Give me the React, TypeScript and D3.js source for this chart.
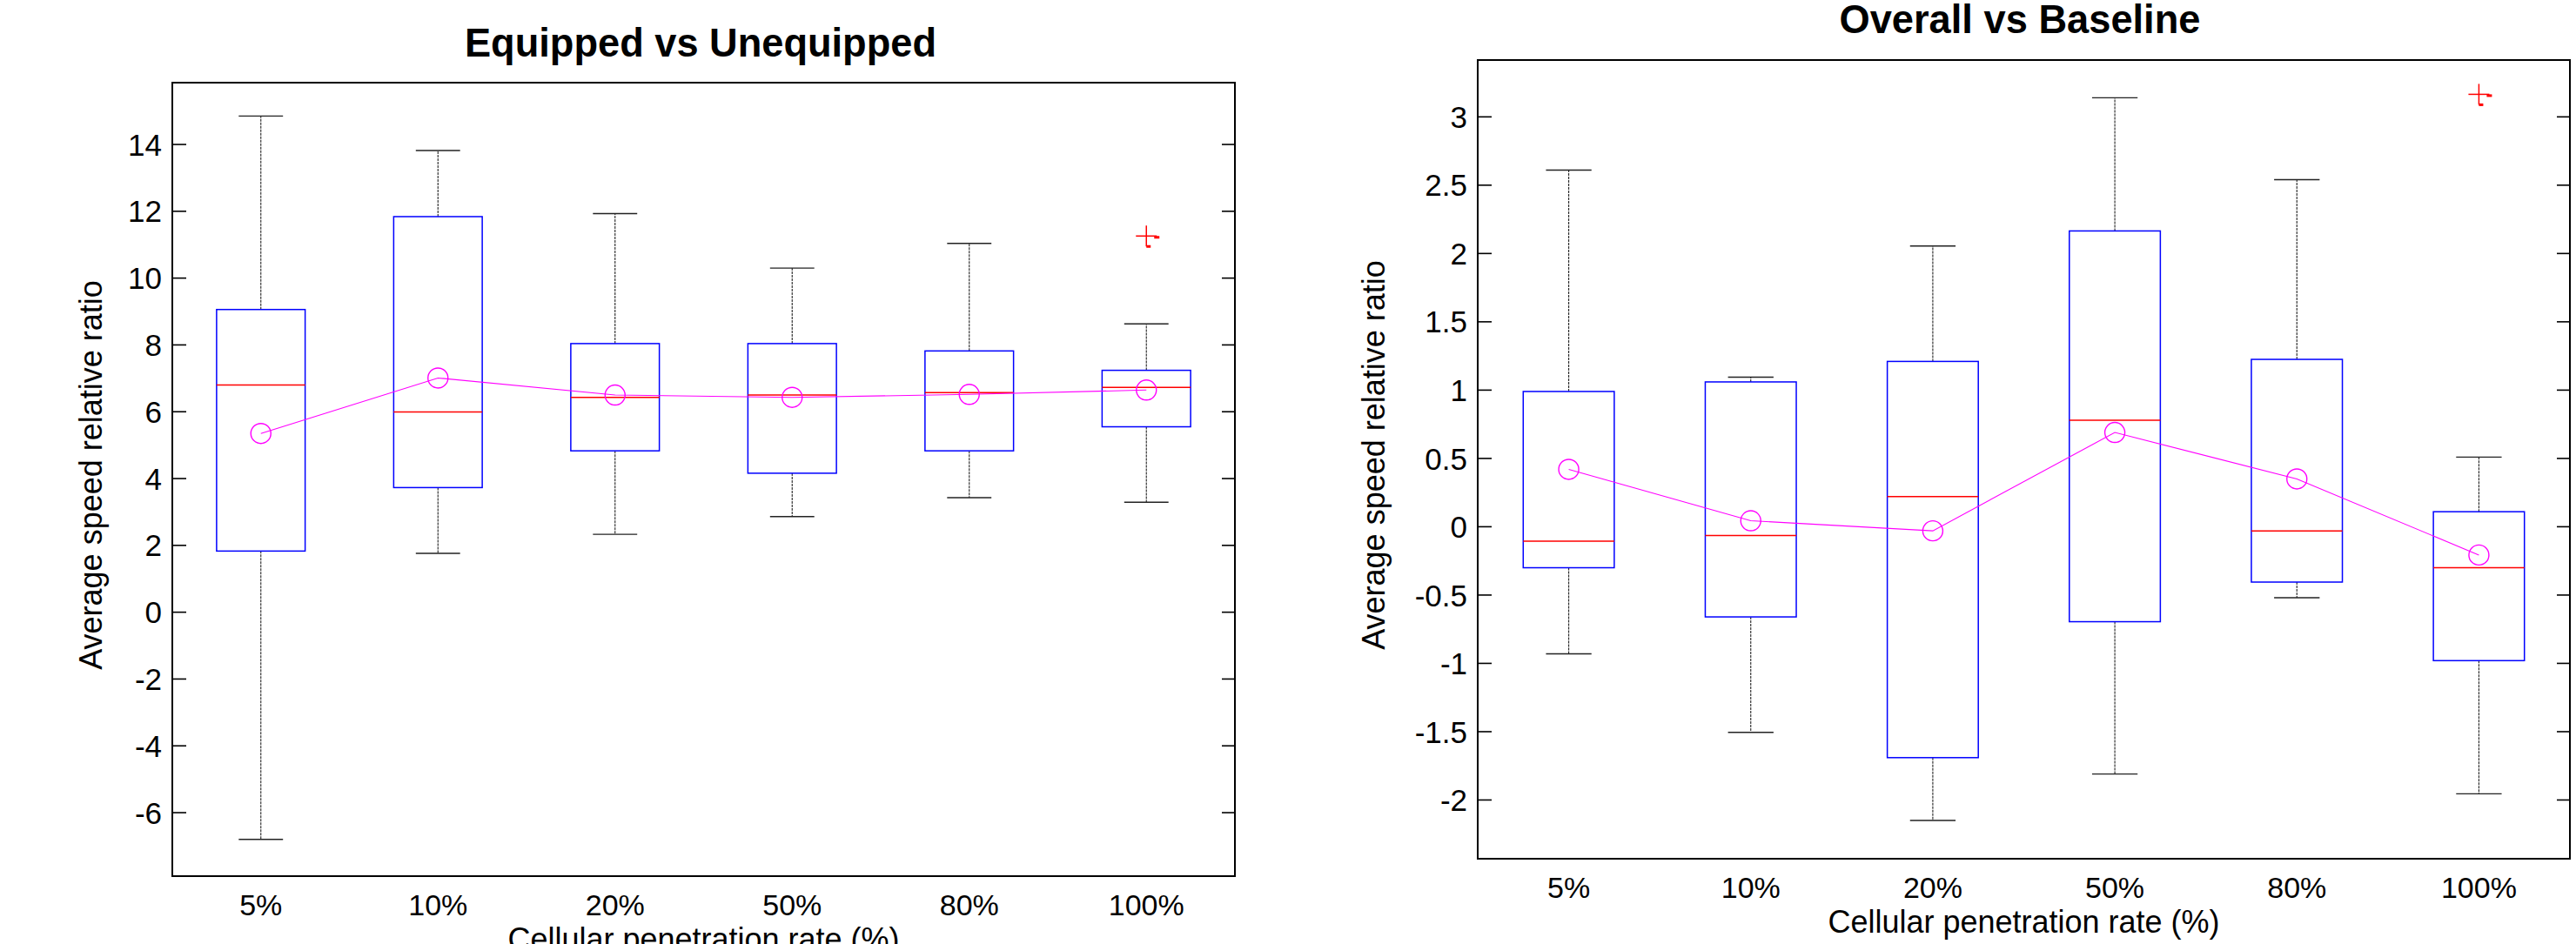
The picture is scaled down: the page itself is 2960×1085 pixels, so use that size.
import * as d3 from "d3";

// categories shared by both panels
const categories = ["5%", "10%", "20%", "50%", "80%", "100%"];

// Equipped vs Unequipped
const eqWhiskerHigh = [14.85, 13.82, 11.93, 10.3, 11.04, 8.63];
const eqQ3 = [9.06, 11.84, 8.04, 8.04, 7.82, 7.24];
const eqMedian = [6.8, 5.99, 6.43, 6.5, 6.57, 6.73];
const eqQ1 = [1.83, 3.73, 4.83, 4.16, 4.83, 5.55];
const eqWhiskerLow = [-6.8, 1.76, 2.33, 2.86, 3.43, 3.29];
const eqMean = [5.35, 7.01, 6.5, 6.43, 6.52, 6.65];
const eqOutliers = [{ cat: "100%", value: 11.26 }];
const eqTicks = [-6, -4, -2, 0, 2, 4, 6, 8, 10, 12, 14];

// Overall vs Baseline
const ovWhiskerHigh = [2.61, 1.095, 2.055, 3.14, 2.54, 0.51];
const ovQ3 = [0.99, 1.06, 1.21, 2.165, 1.225, 0.11];
const ovMedian = [-0.105, -0.065, 0.22, 0.78, -0.03, -0.3];
const ovQ1 = [-0.3, -0.66, -1.69, -0.695, -0.405, -0.98];
const ovWhiskerLow = [-0.93, -1.505, -2.15, -1.81, -0.52, -1.955];
const ovMean = [0.42, 0.044, -0.03, 0.69, 0.35, -0.207];
const ovOutliers = [{ cat: "100%", value: 3.165 }];
const ovTicks = [-2, -1.5, -1, -0.5, 0, 0.5, 1, 1.5, 2, 2.5, 3];

const font = "'Liberation Sans', Arial, sans-serif";

type Outlier = { cat: string; value: number };

type PanelProps = {
  title: string;
  titleX: number;
  titleY: number;
  titleWidth: number;
  x0: number;
  x1: number;
  yTop: number;
  yBottom: number;
  domain: [number, number];
  ticks: number[];
  yLabelX: number;
  yLabelY: number;
  whiskerHigh: number[];
  q3: number[];
  median: number[];
  q1: number[];
  whiskerLow: number[];
  mean: number[];
  outliers: Outlier[];
};

const BoxPanel = (p: PanelProps) => {
  const xScale = d3.scalePoint<string>().domain(categories).range([p.x0, p.x1]).padding(0.5);
  const yScale = d3.scaleLinear().domain(p.domain).range([p.yBottom, p.yTop]);
  const step = xScale.step();
  const boxW = step * 0.5;
  const capW = step * 0.25;

  const meanLine = d3
    .line<number>()
    .x((_, i) => xScale(categories[i])!)
    .y((d) => yScale(d));

  return (
    <g>
      <text
        x={p.titleX}
        y={p.titleY}
        textAnchor="middle"
        fontFamily={font}
        fontWeight="bold"
        fontSize={46}
        textLength={p.titleWidth}
        lengthAdjust="spacingAndGlyphs"
      >
        {p.title}
      </text>

      {/* whiskers */}
      {categories.map((c, i) => {
        const cx = xScale(c)!;
        return (
          <g key={"w" + c}>
            <line x1={cx} x2={cx} y1={yScale(p.q3[i])} y2={yScale(p.whiskerHigh[i])} stroke="#222" strokeWidth={1.1} strokeDasharray="3,1" />
            <line x1={cx} x2={cx} y1={yScale(p.q1[i])} y2={yScale(p.whiskerLow[i])} stroke="#222" strokeWidth={1.1} strokeDasharray="3,1" />
            <line x1={cx - capW / 2} x2={cx + capW / 2} y1={yScale(p.whiskerHigh[i])} y2={yScale(p.whiskerHigh[i])} stroke="#222" strokeWidth={1.4} />
            <line x1={cx - capW / 2} x2={cx + capW / 2} y1={yScale(p.whiskerLow[i])} y2={yScale(p.whiskerLow[i])} stroke="#222" strokeWidth={1.4} />
          </g>
        );
      })}

      {/* boxes and medians */}
      {categories.map((c, i) => {
        const cx = xScale(c)!;
        return (
          <g key={"b" + c}>
            <rect
              x={cx - boxW / 2}
              y={yScale(p.q3[i])}
              width={boxW}
              height={yScale(p.q1[i]) - yScale(p.q3[i])}
              fill="none"
              stroke="#0000ff"
              strokeWidth={1.5}
            />
            <line x1={cx - boxW / 2} x2={cx + boxW / 2} y1={yScale(p.median[i])} y2={yScale(p.median[i])} stroke="#ff0000" strokeWidth={1.5} />
          </g>
        );
      })}

      {/* mean line and markers */}
      <path d={meanLine(p.mean) ?? ""} fill="none" stroke="#ff00ff" strokeWidth={1.1} />
      {categories.map((c, i) => (
        <circle key={"m" + c} cx={xScale(c)} cy={yScale(p.mean[i])} r={11.5} fill="none" stroke="#ff00ff" strokeWidth={1.4} />
      ))}

      {/* outliers */}
      {p.outliers.map((o) => {
        const cx = xScale(o.cat)!;
        const cy = yScale(o.value);
        return (
          <g key={"o" + o.cat} stroke="#ff0000" strokeWidth={1.5}>
            <line x1={cx - 12} x2={cx + 12} y1={cy} y2={cy} />
            <line x1={cx} x2={cx} y1={cy - 12} y2={cy + 12} />
            <line x1={cx + 9} x2={cx + 15} y1={cy + 1.5} y2={cy + 1.5} strokeWidth={3} />
            <line x1={cx} x2={cx + 5} y1={cy + 12} y2={cy + 12} strokeWidth={3} />
          </g>
        );
      })}

      {/* axes frame */}
      <rect x={p.x0} y={p.yTop} width={p.x1 - p.x0} height={p.yBottom - p.yTop} fill="none" stroke="#000" strokeWidth={2} />

      {/* y ticks */}
      {p.ticks.map((t) => (
        <g key={"t" + t}>
          <line x1={p.x0} x2={p.x0 + 16} y1={yScale(t)} y2={yScale(t)} stroke="#000" strokeWidth={1.6} />
          <line x1={p.x1 - 15} x2={p.x1} y1={yScale(t)} y2={yScale(t)} stroke="#000" strokeWidth={1.6} />
          <text x={p.x0 - 12} y={yScale(t)} dy="0.36em" textAnchor="end" fontFamily={font} fontSize={35}>
            {String(t)}
          </text>
        </g>
      ))}

      {/* x tick labels */}
      {categories.map((c) => (
        <text key={"x" + c} x={xScale(c)} y={p.yBottom + 45} textAnchor="middle" fontFamily={font} fontSize={34}>
          {c}
        </text>
      ))}

      <text x={(p.x0 + p.x1) / 2} y={p.yBottom + 85} textAnchor="middle" fontFamily={font} fontSize={36}>
        Cellular penetration rate (%)
      </text>
      <text
        transform={`translate(${p.yLabelX},${p.yLabelY}) rotate(-90)`}
        textAnchor="middle"
        fontFamily={font}
        fontSize={36}
      >
        Average speed relative ratio
      </text>
    </g>
  );
};

export default function App() {
  return (
    <svg
      width={2960}
      height={1085}
      viewBox="0 0 2960 1085"
      style={{ position: "absolute", left: 0, top: 0, display: "block", background: "#fff" }}
    >
      <rect width={2960} height={1085} fill="#fff" />
      <BoxPanel
        title="Equipped vs Unequipped"
        titleX={805}
        titleY={65}
        titleWidth={542}
        x0={198}
        x1={1419}
        yTop={95}
        yBottom={1007}
        domain={[-7.9, 15.85]}
        ticks={eqTicks}
        yLabelX={117}
        yLabelY={546}
        whiskerHigh={eqWhiskerHigh}
        q3={eqQ3}
        median={eqMedian}
        q1={eqQ1}
        whiskerLow={eqWhiskerLow}
        mean={eqMean}
        outliers={eqOutliers}
      />
      <BoxPanel
        title="Overall vs Baseline"
        titleX={2321}
        titleY={38}
        titleWidth={415}
        x0={1698}
        x1={2953}
        yTop={69}
        yBottom={987}
        domain={[-2.43, 3.416]}
        ticks={ovTicks}
        yLabelX={1591}
        yLabelY={523}
        whiskerHigh={ovWhiskerHigh}
        q3={ovQ3}
        median={ovMedian}
        q1={ovQ1}
        whiskerLow={ovWhiskerLow}
        mean={ovMean}
        outliers={ovOutliers}
      />
    </svg>
  );
}
